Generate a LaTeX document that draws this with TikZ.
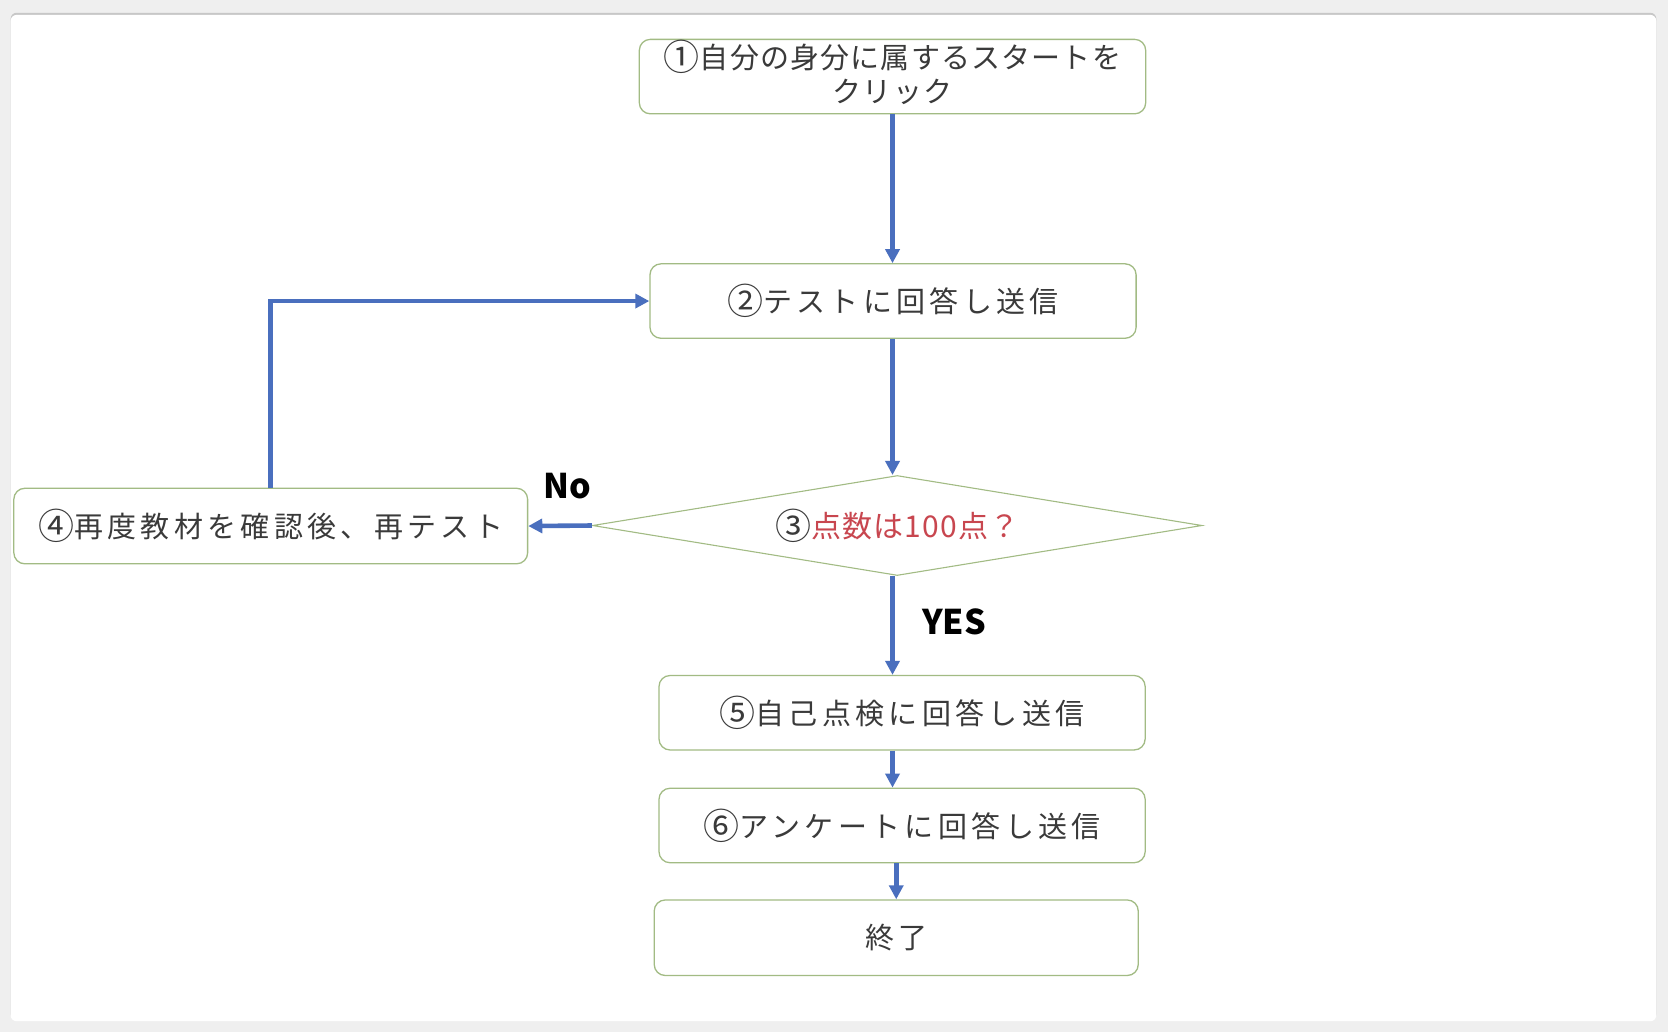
\documentclass[tikz,border=0pt]{standalone}
\usepackage{fontspec}
\usetikzlibrary{arrows.meta,shapes.geometric}
\newfontfamily\jp[LetterSpace=15]{Noto Sans CJK JP}
\newfontfamily\jpa[LetterSpace=4]{Noto Sans CJK JP}
\newfontfamily\jpb[LetterSpace=2]{Noto Sans CJK JP}
\newfontfamily\lab{Noto Sans CJK JP}
\newcommand\cdig[1]{{\jpb\fontsize{36}{36}\selectfont\raisebox{-0.06em}{#1}}}
\definecolor{bg}{HTML}{EFEFEF}
\definecolor{boxline}{HTML}{A2BB84}
\definecolor{arrblue}{HTML}{4A6FBE}
\definecolor{txt}{HTML}{3A3A3A}
\definecolor{qred}{HTML}{C8464F}
\tikzset{
  box/.style={draw=boxline, line width=1.3pt, rounded corners=11pt, fill=white,
    text=txt, font=\jp\fontsize{29}{36}\selectfont, inner sep=0pt, align=center},
  arr/.style={draw=arrblue, line width=4.6pt, -{Triangle[length=14pt,width=14pt]}},
  lbl/.style={font=\lab\bfseries\fontsize{34}{40}\selectfont, text=black, inner sep=0pt},
}
\begin{document}
\begin{tikzpicture}[x=1.0638pt,y=-1.0638pt]
\useasboundingbox (0,0) rectangle (1568,970);
\fill[bg] (0,0) rectangle (1568,970);
\fill[black!22] (10,12) [rounded corners=6pt] rectangle (1557,959);
\fill[white, rounded corners=6pt] (10,14) rectangle (1557,960);

\node[box, minimum width=476*1.0638pt, minimum height=70*1.0638pt] (b1) at (839,72) {};
\node[text=txt, inner sep=0pt, align=center, font=\jpa\fontsize{29}{34}\selectfont] (b1t) at (839,68) {\cdig{①}自分の身分に属するスタートを\\クリック};
\node[box, minimum width=457*1.0638pt, minimum height=70*1.0638pt] (b2) at (839.5,283) {\cdig{②}テストに回答し送信};
\node[draw=boxline, line width=1.1pt, fill=white, shape=diamond, shape aspect=6.1,
  minimum width=573*1.0638pt, minimum height=94*1.0638pt, inner sep=0pt,
  font=\jpa\fontsize{30}{36}\selectfont, text=txt] (d) at (843.5,494) {\cdig{③}\textcolor{qred}{点数は100点？}};
\node[box, minimum width=483*1.0638pt, minimum height=71*1.0638pt] (b4) at (254.5,494.5) {\cdig{④}再度教材を確認後、再テスト};
\node[box, minimum width=457*1.0638pt, minimum height=70*1.0638pt] (b5) at (848,670) {\cdig{⑤}自己点検に回答し送信};
\node[box, minimum width=457*1.0638pt, minimum height=70*1.0638pt] (b6) at (848,776) {\cdig{⑥}アンケートに回答し送信};
\node[box, minimum width=455*1.0638pt, minimum height=71*1.0638pt] (e) at (842.5,881.5) {終了};

\node[lbl] (no) at (533,457) {No};
\node[lbl] (yes) at (897,585) {YES};

\draw[arr] (b1.south -| b1) -- (b2.north -| b1);
\draw[arr] (b2.south -| b1) -- (d.north -| b1);
\draw[arr] (d.south -| b1) -- (b5.north -| b1);
\draw[arr] (b5.south -| b1) -- (b6.north -| b1);
\draw[arr] (b6.south -| e) -- (e.north);
\draw[arr] (d.west) -- (b4.east);
\draw[arr] (b4.north) |- (b2.west);
\end{tikzpicture}
\end{document}
